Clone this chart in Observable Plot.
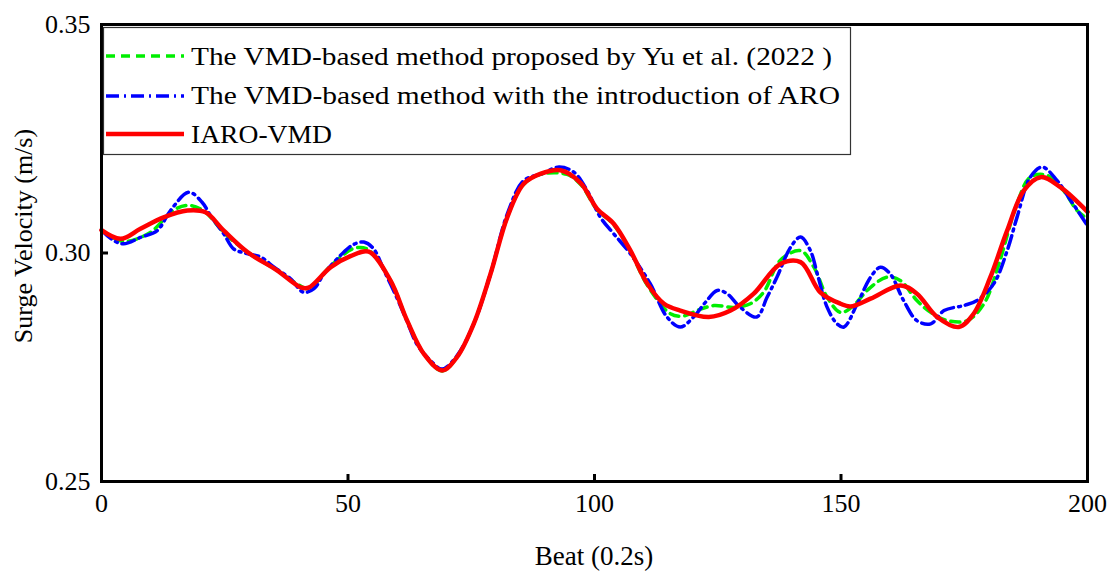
<!DOCTYPE html>
<html><head><meta charset="utf-8">
<script src="https://cdn.jsdelivr.net/npm/d3@7"></script>
<script src="https://cdn.jsdelivr.net/npm/@observablehq/plot@0.6"></script>
<style>body{margin:0;background:#fff}</style>
</head><body><div id="chart"></div>
<script>
const seriesNames = ["The VMD-based method proposed by Yu et al. (2022 )","The VMD-based method with the introduction of ARO","IARO-VMD"];
const xTicks = [0,50,100,150,200];
const yTicks = [0.25,0.30,0.35];
const xLabel = "Beat (0.2s)";
const yLabel = "Surge Velocity (m/s)";

const greenBeat = [0,3,5,9.9,14.8,18,21,24.8,29.6,35.6,40,42,46.5,51.2,54,58.6,62,65.4,69.1,72.1,75.5,78.9,82.3,85.6,89,94.4,97.2,100.5,103.9,107.3,110.7,115.4,118,121,124.2,128.3,131.6,134.3,137.7,141.8,144.5,147.2,149.9,152,156,159.3,162,165.4,168.2,171.6,175.6,179,182,185.7,188.4,191.8,195.1,197.9,200];
const greenVel = [0.3050,0.3030,0.3025,0.3045,0.3095,0.3104,0.3090,0.3045,0.3002,0.2962,0.2930,0.2922,0.2972,0.3010,0.3008,0.2940,0.2852,0.2779,0.2742,0.2772,0.2845,0.2954,0.3078,0.3150,0.3172,0.3172,0.3150,0.3095,0.3062,0.3003,0.2930,0.2867,0.2862,0.2875,0.2885,0.2881,0.2889,0.2914,0.2984,0.3005,0.2969,0.2903,0.2870,0.2880,0.2925,0.2947,0.2940,0.2896,0.2870,0.2852,0.2852,0.2889,0.2975,0.3108,0.3166,0.3170,0.3137,0.3093,0.3075];

const blueBeat = [0,2.5,4.5,7.9,11.3,14,17.7,20.4,22.1,24.8,26.8,29,32.3,35,38.3,41,43.1,45.1,48.5,51,53.2,55.2,57.3,60,62,64,66.7,69.1,72.1,75.5,78.9,82.3,85.6,89.2,92.8,95.8,98.5,101.2,103.9,107.3,111.3,114.7,117.4,120.1,122.5,124.9,126.9,129.6,132.9,135,137,139.8,141.8,143.8,145.2,147.2,149.2,150.6,153.3,156,158,160,162.7,165.4,168.2,170.9,174.9,177.6,181,183.7,185.7,188.4,190.8,193.8,196.6,200];
const blueVel = [0.3050,0.3027,0.3020,0.3034,0.3049,0.3093,0.3133,0.3111,0.3082,0.3042,0.3009,0.3000,0.2991,0.2969,0.2944,0.2914,0.2922,0.2954,0.2995,0.3018,0.3024,0.3009,0.2962,0.2900,0.2850,0.2800,0.2765,0.2746,0.2775,0.2845,0.2954,0.3085,0.3158,0.3173,0.3188,0.3177,0.3137,0.3078,0.3042,0.2998,0.2933,0.2860,0.2838,0.2860,0.2892,0.2918,0.2911,0.2881,0.2860,0.2903,0.2947,0.3013,0.3035,0.3005,0.2954,0.2881,0.2845,0.2838,0.2889,0.2947,0.2969,0.2954,0.2896,0.2852,0.2845,0.2874,0.2885,0.2896,0.2933,0.3005,0.3078,0.3166,0.3188,0.3159,0.3115,0.3060];

const redBeat = [0,3.9,7.9,12.6,17.4,21.1,24.8,29.6,35.6,40.4,42,46.5,50.5,54.2,58.6,62,65.4,69.1,72.1,75.5,78.9,82.3,85.6,89,93.1,97.2,100.5,103.9,107.3,110.7,114.1,117.4,123.2,127.6,132.3,137.7,141.8,145.8,149.9,151.9,156,162.1,165.4,169.5,173.9,176.9,180.3,183.7,187.1,190.5,194.5,200];
const redVel = [0.3050,0.3031,0.3053,0.3078,0.3093,0.3089,0.3049,0.3002,0.2962,0.2925,0.2924,0.2969,0.2993,0.3003,0.2940,0.2852,0.2779,0.2743,0.2772,0.2845,0.2954,0.3078,0.3151,0.3173,0.3181,0.3153,0.3097,0.3064,0.3005,0.2933,0.2889,0.2874,0.2860,0.2874,0.2911,0.2976,0.2980,0.2914,0.2889,0.2883,0.2900,0.2929,0.2911,0.2860,0.2838,0.2867,0.2947,0.3049,0.3137,0.3166,0.3144,0.3090];

const colors = ["#00ee00","#0000ff","#ff0000"];
const dashes = ["9,6","13,5,2,5",null];
const widths = [3.5,3.5,4.5];

const rows = (bx, vy) => bx.map((b,i)=>({beat:b, v:vy[i]}));
const data = [rows(greenBeat,greenVel), rows(blueBeat,blueVel), rows(redBeat,redVel)];

const font = "'Liberation Serif', serif";
const plot = Plot.plot({
  width:1110, height:574,
  marginLeft:101, marginRight:23, marginTop:24, marginBottom:93,
  style:{fontFamily:font, fontSize:"26px", color:"#000", background:"#fff", overflow:"visible"},
  x:{domain:[0,200]},
  y:{domain:[0.25,0.35]},
  marks:[
    Plot.axisX(xTicks,{tickSize:-7, tickPadding:19, strokeWidth:3, label:null, tickFormat:d=>String(d)}),
    Plot.axisY(yTicks,{tickSize:-7, tickPadding:18, strokeWidth:3, label:null, tickFormat:d3.format(".2f")}),
    ...data.map((d,i)=>Plot.line(d,{x:"beat",y:"v",stroke:colors[i],strokeWidth:widths[i],strokeDasharray:dashes[i],curve:"catmull-rom"})),
    Plot.frame({stroke:"#000", strokeWidth:3})
  ]
});
document.getElementById("chart").appendChild(plot);

const svg = d3.select(plot);
const sx = plot.scale("x");
svg.append("text").attr("x",(sx.apply(0)+sx.apply(200))/2).attr("y",565)
  .attr("text-anchor","middle").attr("font-family",font).attr("font-size",27).attr("fill","#000").text(xLabel);
svg.append("text").attr("transform",`translate(32,236) rotate(-90)`)
  .attr("text-anchor","middle").attr("font-family",font).attr("font-size",26).attr("fill","#000").text(yLabel);

// legend
const lg = svg.append("g");
lg.append("rect").attr("x",103.5).attr("y",27.5).attr("width",747).attr("height",127)
  .attr("fill","#fff").attr("stroke","#333").attr("stroke-width",1.2);
const lineY = [56,96,134];
const textY = [65,104,143];
const textW = [641,649,141];
seriesNames.forEach((name,i)=>{
  lg.append("line").attr("x1",106).attr("x2",184).attr("y1",lineY[i]).attr("y2",lineY[i])
    .attr("stroke",colors[i]).attr("stroke-width",widths[i]).attr("stroke-dasharray",dashes[i]);
  lg.append("text").attr("x",191).attr("y",textY[i]).attr("font-family",font).attr("font-size",26)
    .attr("text-anchor","start").attr("textLength",textW[i]).attr("lengthAdjust","spacingAndGlyphs")
    .attr("fill","#000").text(name);
});
</script>
</body></html>
